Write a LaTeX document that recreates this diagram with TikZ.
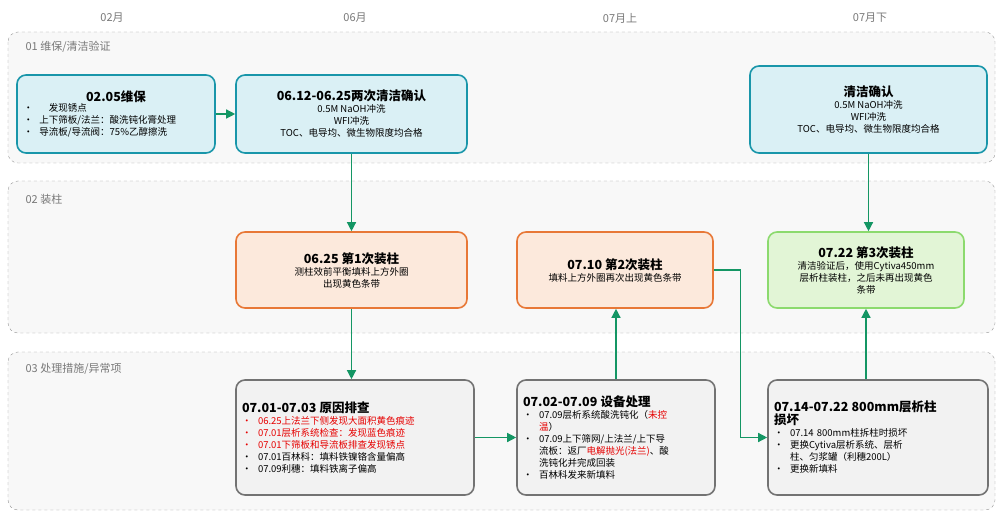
\documentclass[tikz,border=0pt]{standalone}
\usepackage{fontspec}
\setmainfont{Noto Sans CJK SC}
\usepackage{tikz}
\usetikzlibrary{arrows.meta}
\definecolor{band_fill}{RGB}{248,248,248}
\definecolor{band_edge}{RGB}{150,150,150}
\definecolor{node_cyan}{RGB}{218,240,245}
\definecolor{edge_cyan}{RGB}{25,150,170}
\definecolor{node_orng}{RGB}{252,233,220}
\definecolor{edge_orng}{RGB}{232,120,55}
\definecolor{node_green}{RGB}{226,245,214}
\definecolor{edge_green}{RGB}{140,218,110}
\definecolor{node_grey}{RGB}{242,242,242}
\definecolor{edge_grey}{RGB}{115,115,115}
\definecolor{flow_green}{RGB}{20,150,100}
\definecolor{head_grey}{RGB}{120,120,120}
\definecolor{txt_red}{RGB}{230,0,0}
\newcommand\ttl[1]{{\fontsize{12.5}{15}\selectfont\bfseries #1}\\}
\newcommand\bul{\makebox[16pt][l]{\textbullet}}

\begin{document}
\begin{tikzpicture}[x=1pt,y=-1pt,semithick,>={Triangle[length=9pt,width=9pt]}]
    \tikzstyle{band}=[draw=band_edge,dashed,fill=band_fill,rounded corners=10pt,thin]
    \tikzstyle{bandlabel}=[text=head_grey,anchor=west,font=\fontsize{11}{13}\selectfont]
    \tikzstyle{month}=[text=head_grey,font=\fontsize{11}{13}\selectfont]
    \tikzstyle{card}=[draw,rounded corners=9pt,line width=1.6pt,align=center,text=black,font=\fontsize{9.5}{12}\selectfont,inner sep=4pt]
    \tikzstyle{cardcl}=[style=card,fill=node_cyan,draw=edge_cyan]
    \tikzstyle{cardcol}=[style=card,fill=node_orng,draw=edge_orng]
    \tikzstyle{cardok}=[style=card,fill=node_green,draw=edge_green]
    \tikzstyle{cardfix}=[style=card,fill=node_grey,draw=edge_grey,align=left]
    \tikzstyle{flow}=[->,draw=flow_green,line width=1.3pt]

    \useasboundingbox (0,0) rectangle (1002,516);

    \node[month] (m1) at (112,18) {02月};
    \node[month] (m2) at (355,18) {06月};
    \node[month] (m3) at (620,18) {07月上};
    \node[month] (m4) at (870,18) {07月下};

    \draw[band] (8,32) rectangle (995,163);
    \draw[band] (8,181) rectangle (995,333);
    \draw[band] (8,352) rectangle (995,510);
    \node[bandlabel] (L1) at (22,47)  {01 维保/清洁验证};
    \node[bandlabel] (L2) at (22,199) {02 装柱};
    \node[bandlabel] (L3) at (22,369) {03 处理措施/异常项};

    \node[cardcl,minimum width=198pt,minimum height=78pt] (A) at (116,114)
      {\ttl{02.05维保}
       \parbox{185pt}{\bul\quad 发现锈点\\ \bul 上下筛板/法兰：酸洗钝化膏处理\\ \bul 导流板/导流阀：75\%乙醇擦洗}};
    \node[cardcl,minimum width=231pt,minimum height=78pt] (B) at (351.5,114)
      {\ttl{06.12-06.25两次清洁确认}0.5M NaOH冲洗\\WFI冲洗\\TOC、电导均、微生物限度均合格};
    \node[cardcl,minimum width=237pt,minimum height=87pt] (C) at (868.5,109.5)
      {\ttl{清洁确认}0.5M NaOH冲洗\\WFI冲洗\\TOC、电导均、微生物限度均合格};

    \node[cardcol,minimum width=231pt,minimum height=76pt] (D) at (351.5,270)
      {\ttl{06.25 第1次装柱}测柱效前平衡填料上方外圈\\出现黄色条带};
    \node[cardcol,minimum width=196pt,minimum height=76pt] (E) at (615,270)
      {\ttl{07.10 第2次装柱}填料上方外圈再次出现黄色条带};
    \node[cardok,minimum width=196pt,minimum height=76pt] (F) at (866,270)
      {\ttl{07.22 第3次装柱}清洁验证后，使用Cytiva450mm\\层析柱装柱，之后未再出现黄色\\条带};

    \node[cardfix,minimum width=238pt,minimum height=115pt,text width=226pt] (G) at (355,437.5)
      {\ttl{07.01-07.03 原因排查}
       \textcolor{txt_red}{\bul 06.25上法兰下侧发现大面积黄色痕迹}\\
       \textcolor{txt_red}{\bul 07.01层析系统检查：发现蓝色痕迹}\\
       \textcolor{txt_red}{\bul 07.01下筛板和导流板排查发现锈点}\\
       \bul 07.01百林科：填料铁镍铬含量偏高\\
       \bul 07.09利穗：填料铁离子偏高};
    \node[cardfix,minimum width=198pt,minimum height=115pt,text width=186pt] (H) at (616,437.5)
      {\ttl{07.02-07.09 设备处理}
       \bul 07.09层析系统酸洗钝化（\textcolor{txt_red}{未控}\\
       \hspace*{16pt}\textcolor{txt_red}{温}）\\
       \bul 07.09上下筛网/上法兰/上下导\\
       \hspace*{16pt}流板：返厂\textcolor{txt_red}{电解抛光(法兰)}、酸\\
       \hspace*{16pt}洗钝化并完成回装\\
       \bul 百林科发来新填料};
    \node[cardfix,minimum width=220pt,minimum height=115pt,text width=208pt] (I) at (878,437.5)
      {\ttl{07.14-07.22 800mm层析柱\\损坏}
       \bul 07.14 800mm柱拆柱时损坏\\
       \bul 更换Cytiva层析系统、层析\\
       \hspace*{16pt}柱、匀浆罐（利穗200L）\\
       \bul 更换新填料};

    \draw[flow] (A.east) -- (B.west);
    \draw[flow] (B.south) -- (D.north);
    \draw[flow] (C.south) -- (C.south|-F.north);
    \draw[flow] (D.south) -- (D.south|-G.north);
    \draw[flow] (G.east) -- (H.west);
    \draw[flow] (H.north) -- (H.north|-E.south);
    \draw[flow] (E.east) -- ++(27,0) |- (I.west);
    \draw[flow] (F.south|-I.north) -- (F.south);
\end{tikzpicture}
\end{document}
